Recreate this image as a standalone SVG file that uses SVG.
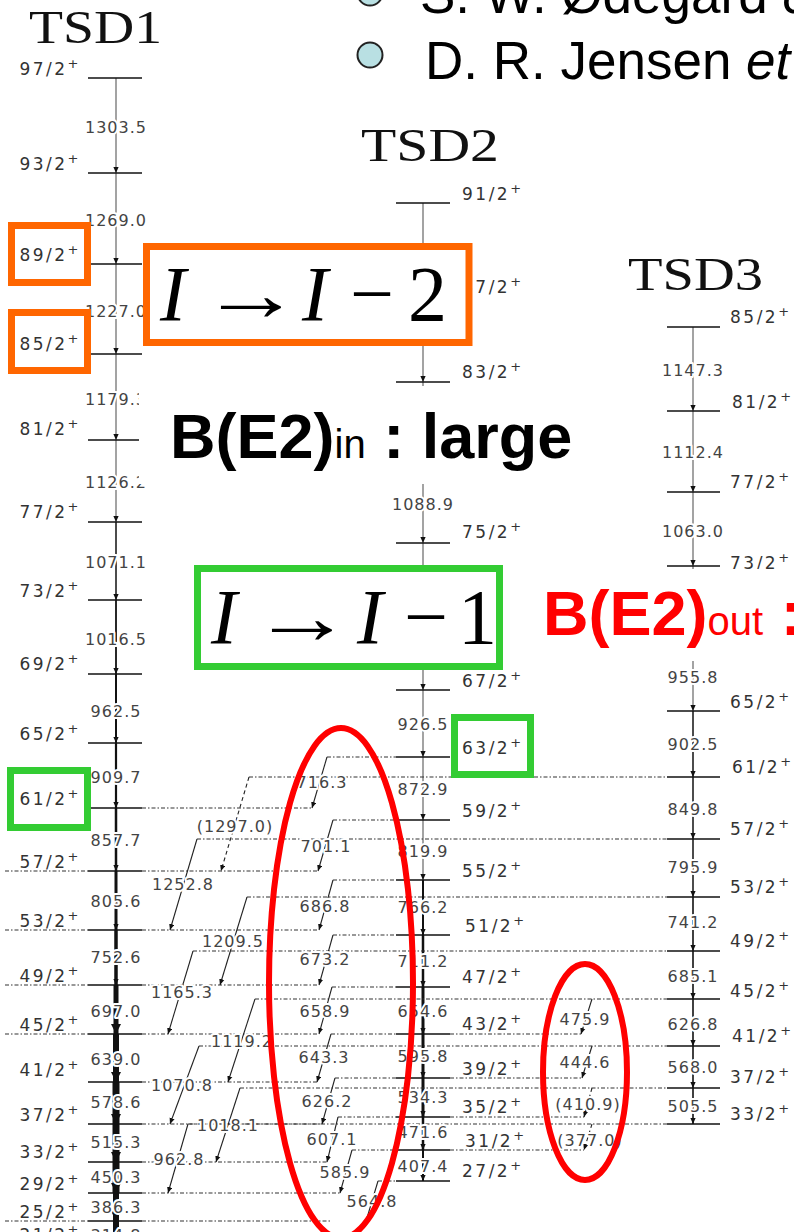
<svg xmlns="http://www.w3.org/2000/svg" width="794" height="1232" viewBox="0 0 794 1232">
<defs>
<style>
.lv{stroke:#111;stroke-width:1.6}
.dd{stroke:#333;stroke-width:1.1;stroke-dasharray:4 2 1.5 2;fill:none}
.ib{stroke:#222;stroke-width:1.1;fill:none}
.ibd{stroke:#222;stroke-width:1.1;fill:none;stroke-dasharray:4 3}
.ll{font-family:"DejaVu Sans",sans-serif;font-size:17px;fill:#333;letter-spacing:2.5px}
.ll tspan{font-size:13px}
.tl{font-family:"DejaVu Sans",sans-serif;font-size:16px;fill:#444;letter-spacing:1px;text-anchor:middle;stroke:#fff;stroke-width:4px;stroke-linejoin:round;paint-order:stroke}
.ttl{font-family:"Liberation Serif",serif;font-size:47px;fill:#111}
.box-o{fill:none;stroke:#ff6600;stroke-width:7}
.box-g{fill:none;stroke:#33cc33;stroke-width:7}
.math{font-family:"Liberation Serif","DejaVu Serif",serif;font-size:78px;fill:#000}
.arr{font-family:"Liberation Serif","DejaVu Serif",serif;font-size:78px;fill:#000;text-anchor:middle}
.big{font-family:"Liberation Sans",Arial,sans-serif;font-weight:bold;font-size:63px}
.sub{font-weight:normal;font-size:40px}
.ell{fill:none;stroke:#ff0000;stroke-width:6}
.hdr{font-family:"Liberation Sans",Arial,sans-serif;font-size:53px;fill:#000}
.g1{stroke:#666;stroke-width:1.2}
.k{stroke:#111}
</style>
<marker id="a" viewBox="0 0 8 8" refX="8" refY="4" markerWidth="6" markerHeight="6" markerUnits="userSpaceOnUse" orient="auto"><path d="M0,0.5 L8,4 L0,7.5z" fill="#111"/></marker>
<marker id="ab" viewBox="0 0 8 8" refX="8" refY="4" markerWidth="10" markerHeight="12" markerUnits="userSpaceOnUse" orient="auto"><path d="M0,0 L8,4 L0,8z" fill="#111"/></marker>
</defs>
<rect width="794" height="1232" fill="#fff"/>

<!-- header -->
<g id="header">
<circle cx="370" cy="-7" r="12.5" fill="#b9e0e3" stroke="#222" stroke-width="2"/>
<text class="hdr" x="420" y="13">S. W. Ødegård <tspan font-style="italic">et</tspan></text>
<circle cx="370" cy="55" r="12.5" fill="#b9e0e3" stroke="#222" stroke-width="2"/>
<text class="hdr" x="425" y="79">D. R. Jensen <tspan font-style="italic">et</tspan></text>
</g>

<g id="titles">
<text class="ttl" x="29" y="43" textLength="133" lengthAdjust="spacingAndGlyphs">TSD1</text>
<text class="ttl" x="361" y="161" textLength="138" lengthAdjust="spacingAndGlyphs">TSD2</text>
<text class="ttl" x="628" y="290" textLength="135" lengthAdjust="spacingAndGlyphs">TSD3</text>
</g>

<g id="connectors">
<!-- TSD1 in-band -->
<g marker-end="url(#a)">
<line class="g1" x1="116" y1="78" x2="116" y2="173"/>
<line class="g1" x1="116" y1="173" x2="116" y2="264"/>
<line class="g1" x1="116" y1="264" x2="116" y2="354"/>
<line class="g1" x1="116" y1="354" x2="116" y2="440"/>
<line class="g1" x1="116" y1="440" x2="116" y2="522"/>
<line class="k" stroke-width="1.5" x1="116" y1="522" x2="116" y2="600"/>
<line class="k" stroke-width="1.8" x1="116" y1="600" x2="116" y2="674"/>
<line class="k" stroke-width="2" x1="116" y1="674" x2="116" y2="743"/>
<line class="k" stroke-width="2.2" x1="116" y1="743" x2="116" y2="808"/>
<line class="k" stroke-width="2.5" x1="116" y1="808" x2="116" y2="871"/>
<line class="k" stroke-width="3" x1="116" y1="871" x2="116" y2="930"/>
<line class="k" stroke-width="3.5" x1="116" y1="930" x2="116" y2="985"/>
</g>
<g marker-end="url(#ab)">
<line class="k" stroke-width="5" x1="116" y1="985" x2="116" y2="1034"/>
<line class="k" stroke-width="6" x1="116" y1="1034" x2="116" y2="1082"/>
<line class="k" stroke-width="7" x1="116" y1="1082" x2="116" y2="1124"/>
<line class="k" stroke-width="7" x1="116" y1="1124" x2="116" y2="1162"/>
<line class="k" stroke-width="7" x1="116" y1="1162" x2="116" y2="1193"/>
<line class="k" stroke-width="6" x1="116" y1="1193" x2="116" y2="1221"/>
<line class="k" stroke-width="6" x1="116" y1="1221" x2="116" y2="1245"/>
</g>
<!-- TSD2 in-band -->
<g marker-end="url(#a)">
<line class="g1" x1="423" y1="203" x2="423" y2="296"/>
<line class="g1" x1="423" y1="296" x2="423" y2="382"/>
<line class="g1" x1="423" y1="382" x2="423" y2="463"/>
<line class="g1" x1="423" y1="463" x2="423" y2="543"/>
<line class="g1" x1="423" y1="543" x2="423" y2="617"/>
<line class="g1" x1="423" y1="617" x2="423" y2="690"/>
<line class="g1" stroke-width="1.5" x1="423" y1="690" x2="423" y2="757"/>
<line class="g1" stroke-width="1.5" x1="423" y1="757" x2="423" y2="820"/>
<line class="g1" stroke-width="1.6" x1="423" y1="820" x2="423" y2="880"/>
<line class="k" stroke-width="2" x1="423" y1="880" x2="423" y2="935"/>
<line class="k" stroke-width="2.5" x1="423" y1="935" x2="423" y2="987"/>
<line class="k" stroke-width="3" x1="423" y1="987" x2="423" y2="1034"/>
<line class="k" stroke-width="3" x1="423" y1="1034" x2="423" y2="1078"/>
<line class="k" stroke-width="3" x1="423" y1="1078" x2="423" y2="1117"/>
<line class="k" stroke-width="2.5" x1="423" y1="1117" x2="423" y2="1150"/>
<line class="k" stroke-width="2" x1="423" y1="1150" x2="423" y2="1181"/>
</g>
<!-- TSD3 in-band -->
<g marker-end="url(#a)">
<line class="g1" x1="693" y1="327" x2="693" y2="411"/>
<line class="g1" x1="693" y1="411" x2="693" y2="492"/>
<line class="g1" x1="693" y1="492" x2="693" y2="566"/>
<line class="g1" x1="693" y1="566" x2="693" y2="640"/>
<line class="g1" x1="693" y1="640" x2="693" y2="711"/>
<line class="k" stroke-width="1.5" x1="693" y1="711" x2="693" y2="777"/>
<line class="k" stroke-width="1.5" x1="693" y1="777" x2="693" y2="839"/>
<line class="k" stroke-width="1.5" x1="693" y1="839" x2="693" y2="897"/>
<line class="k" stroke-width="1.6" x1="693" y1="897" x2="693" y2="951"/>
<line class="k" stroke-width="1.6" x1="693" y1="951" x2="693" y2="999"/>
<line class="k" stroke-width="1.6" x1="693" y1="999" x2="693" y2="1046"/>
<line class="k" stroke-width="1.6" x1="693" y1="1046" x2="693" y2="1088"/>
<line class="k" stroke-width="1.6" x1="693" y1="1088" x2="693" y2="1124"/>
</g>

<!-- level extensions (dash-dot) -->
<g class="dd">
<line x1="249" y1="777" x2="667" y2="777"/>
<line x1="197" y1="839" x2="667" y2="839"/>
<line x1="247" y1="897" x2="667" y2="897"/>
<line x1="193" y1="951" x2="667" y2="951"/>
<line x1="255" y1="999" x2="667" y2="999"/>
<line x1="199" y1="1046" x2="667" y2="1046"/>
<line x1="240" y1="1088" x2="667" y2="1088"/>
<line x1="188" y1="1124" x2="667" y2="1124"/>
<line x1="142" y1="808" x2="312" y2="808"/>
<line x1="142" y1="871" x2="318" y2="871"/>
<line x1="142" y1="930" x2="319" y2="930"/>
<line x1="142" y1="985" x2="319" y2="985"/>
<line x1="142" y1="1034" x2="319" y2="1034"/>
<line x1="142" y1="1082" x2="317" y2="1082"/>
<line x1="142" y1="1124" x2="322" y2="1124"/>
<line x1="142" y1="1162" x2="327" y2="1162"/>
<line x1="142" y1="1193" x2="340" y2="1193"/>
<line x1="142" y1="1221" x2="330" y2="1221"/>
<line x1="5" y1="871" x2="88" y2="871"/>
<line x1="5" y1="930" x2="88" y2="930"/>
<line x1="5" y1="985" x2="88" y2="985"/>
<line x1="5" y1="1034" x2="88" y2="1034"/>
<line x1="5" y1="1221" x2="88" y2="1221"/>
<line x1="327" y1="757" x2="396" y2="757"/>
<line x1="333" y1="820" x2="396" y2="820"/>
<line x1="333" y1="880" x2="396" y2="880"/>
<line x1="333" y1="935" x2="396" y2="935"/>
<line x1="332" y1="987" x2="396" y2="987"/>
<line x1="331" y1="1034" x2="396" y2="1034"/>
<line x1="335" y1="1078" x2="396" y2="1078"/>
<line x1="338" y1="1117" x2="396" y2="1117"/>
<line x1="352" y1="1150" x2="396" y2="1150"/>
<line x1="378" y1="1181" x2="396" y2="1181"/>
<line x1="450" y1="1034" x2="581" y2="1034"/>
<line x1="450" y1="1078" x2="582" y2="1078"/>
<line x1="450" y1="1117" x2="584" y2="1117"/>
<line x1="450" y1="1150" x2="584" y2="1150"/>
</g>

<!-- interband transitions -->
<g marker-end="url(#a)">
<line class="ib" x1="327" y1="757" x2="312" y2="808"/>
<line class="ib" x1="333" y1="820" x2="318" y2="871"/>
<line class="ib" x1="333" y1="880" x2="319" y2="930"/>
<line class="ib" x1="333" y1="935" x2="319" y2="985"/>
<line class="ib" x1="332" y1="987" x2="319" y2="1034"/>
<line class="ib" x1="331" y1="1034" x2="317" y2="1082"/>
<line class="ib" x1="335" y1="1078" x2="322" y2="1124"/>
<line class="ib" x1="338" y1="1117" x2="327" y2="1162"/>
<line class="ib" x1="352" y1="1150" x2="340" y2="1193"/>
<line class="ib" x1="378" y1="1181" x2="364" y2="1228"/>
<line class="ib" x1="592" y1="999" x2="581" y2="1034"/>
<line class="ib" x1="592" y1="1046" x2="582" y2="1078"/>
<line class="ibd" x1="592" y1="1088" x2="584" y2="1117"/>
<line class="ibd" x1="592" y1="1124" x2="584" y2="1150"/>
<line class="ibd" x1="249" y1="777" x2="221" y2="871"/>
<line class="ib" x1="197" y1="839" x2="170" y2="930"/>
<line class="ib" x1="247" y1="897" x2="220" y2="985"/>
<line class="ib" x1="193" y1="951" x2="168" y2="1034"/>
<line class="ib" x1="255" y1="999" x2="228" y2="1082"/>
<line class="ib" x1="199" y1="1046" x2="170" y2="1124"/>
<line class="ib" x1="240" y1="1088" x2="216" y2="1162"/>
<line class="ib" x1="188" y1="1124" x2="168" y2="1193"/>
</g>

<!-- transition energy labels -->
<g id="tsd1-energies">
<text class="tl" x="116" y="133">1303.5</text>
<text class="tl" x="116" y="226">1269.0</text>
<text class="tl" x="116" y="317">1227.0</text>
<text class="tl" x="116" y="405">1179.3</text>
<text class="tl" x="116" y="488">1126.2</text>
<text class="tl" x="116" y="568">1071.1</text>
<text class="tl" x="116" y="645">1016.5</text>
<text class="tl" x="116" y="717">962.5</text>
<text class="tl" x="116" y="783">909.7</text>
<text class="tl" x="116" y="846">857.7</text>
<text class="tl" x="116" y="907">805.6</text>
<text class="tl" x="116" y="963">752.6</text>
<text class="tl" x="116" y="1017">697.0</text>
<text class="tl" x="116" y="1065">639.0</text>
<text class="tl" x="116" y="1108">578.6</text>
<text class="tl" x="116" y="1148">515.3</text>
<text class="tl" x="116" y="1183">450.3</text>
<text class="tl" x="116" y="1213">386.3</text>
<text class="tl" x="116" y="1241">314.8</text>
</g>
<g id="tsd2-energies">
<text class="tl" x="423" y="510">1088.9</text>
<text class="tl" x="423" y="730">926.5</text>
<text class="tl" x="423" y="795">872.9</text>
<text class="tl" x="423" y="857">819.9</text>
<text class="tl" x="423" y="913">766.2</text>
<text class="tl" x="423" y="967">711.2</text>
<text class="tl" x="423" y="1017">654.6</text>
<text class="tl" x="423" y="1062">595.8</text>
<text class="tl" x="423" y="1103">534.3</text>
<text class="tl" x="423" y="1138">471.6</text>
<text class="tl" x="423" y="1172">407.4</text>
</g>
<g id="tsd3-energies">
<text class="tl" x="693" y="376">1147.3</text>
<text class="tl" x="693" y="458">1112.4</text>
<text class="tl" x="693" y="537">1063.0</text>
<text class="tl" x="693" y="683">955.8</text>
<text class="tl" x="693" y="750">902.5</text>
<text class="tl" x="693" y="815">849.8</text>
<text class="tl" x="693" y="873">795.9</text>
<text class="tl" x="693" y="928">741.2</text>
<text class="tl" x="693" y="982">685.1</text>
<text class="tl" x="693" y="1030">626.8</text>
<text class="tl" x="693" y="1073">568.0</text>
<text class="tl" x="693" y="1112">505.5</text>
</g>
<g id="interband-energies">
<text class="tl" x="322" y="788">716.3</text>
<text class="tl" x="326" y="852">701.1</text>
<text class="tl" x="325" y="912">686.8</text>
<text class="tl" x="325" y="965">673.2</text>
<text class="tl" x="325" y="1017">658.9</text>
<text class="tl" x="324" y="1063">643.3</text>
<text class="tl" x="327" y="1107">626.2</text>
<text class="tl" x="332" y="1145">607.1</text>
<text class="tl" x="345" y="1178">585.9</text>
<text class="tl" x="372" y="1207">564.8</text>
<text class="tl" x="585" y="1025">475.9</text>
<text class="tl" x="585" y="1068">444.6</text>
<text class="tl" x="588" y="1110">(410.9)</text>
<text class="tl" x="590" y="1146">(377.0)</text>
<text class="tl" x="235" y="832">(1297.0)</text>
<text class="tl" x="183" y="890">1252.8</text>
<text class="tl" x="233" y="947">1209.5</text>
<text class="tl" x="182" y="998">1165.3</text>
<text class="tl" x="242" y="1047">1119.2</text>
<text class="tl" x="182" y="1091">1070.8</text>
<text class="tl" x="228" y="1131">1018.1</text>
<text class="tl" x="179" y="1165">962.8</text>
</g>
</g>

<!-- TSD1 levels -->
<g id="tsd1-97"><line class="lv" x1="88" y1="78" x2="142" y2="78"/><text class="ll" x="81" y="75" text-anchor="end">97/2<tspan dy="-7">+</tspan></text></g>
<g id="tsd1-93"><line class="lv" x1="88" y1="173" x2="142" y2="173"/><text class="ll" x="81" y="170" text-anchor="end">93/2<tspan dy="-7">+</tspan></text></g>
<g id="tsd1-89"><line class="lv" x1="88" y1="264" x2="142" y2="264"/><text class="ll" x="81" y="261" text-anchor="end">89/2<tspan dy="-7">+</tspan></text></g>
<g id="tsd1-85"><line class="lv" x1="88" y1="354" x2="142" y2="354"/><text class="ll" x="81" y="350" text-anchor="end">85/2<tspan dy="-7">+</tspan></text></g>
<g id="tsd1-81"><line class="lv" x1="88" y1="440" x2="142" y2="440"/><text class="ll" x="81" y="435" text-anchor="end">81/2<tspan dy="-7">+</tspan></text></g>
<g id="tsd1-77"><line class="lv" x1="88" y1="522" x2="142" y2="522"/><text class="ll" x="81" y="518" text-anchor="end">77/2<tspan dy="-7">+</tspan></text></g>
<g id="tsd1-73"><line class="lv" x1="88" y1="600" x2="142" y2="600"/><text class="ll" x="81" y="597" text-anchor="end">73/2<tspan dy="-7">+</tspan></text></g>
<g id="tsd1-69"><line class="lv" x1="88" y1="674" x2="142" y2="674"/><text class="ll" x="81" y="670" text-anchor="end">69/2<tspan dy="-7">+</tspan></text></g>
<g id="tsd1-65"><line class="lv" x1="88" y1="743" x2="142" y2="743"/><text class="ll" x="81" y="740" text-anchor="end">65/2<tspan dy="-7">+</tspan></text></g>
<g id="tsd1-61"><line class="lv" x1="88" y1="808" x2="142" y2="808"/><text class="ll" x="81" y="805" text-anchor="end">61/2<tspan dy="-7">+</tspan></text></g>
<g id="tsd1-57"><line class="lv" x1="88" y1="871" x2="142" y2="871"/><text class="ll" x="81" y="868" text-anchor="end">57/2<tspan dy="-7">+</tspan></text></g>
<g id="tsd1-53"><line class="lv" x1="88" y1="930" x2="142" y2="930"/><text class="ll" x="81" y="927" text-anchor="end">53/2<tspan dy="-7">+</tspan></text></g>
<g id="tsd1-49"><line class="lv" x1="88" y1="985" x2="142" y2="985"/><text class="ll" x="81" y="982" text-anchor="end">49/2<tspan dy="-7">+</tspan></text></g>
<g id="tsd1-45"><line class="lv" x1="88" y1="1034" x2="142" y2="1034"/><text class="ll" x="81" y="1031" text-anchor="end">45/2<tspan dy="-7">+</tspan></text></g>
<g id="tsd1-41"><line class="lv" x1="88" y1="1082" x2="142" y2="1082"/><text class="ll" x="81" y="1076" text-anchor="end">41/2<tspan dy="-7">+</tspan></text></g>
<g id="tsd1-37"><line class="lv" x1="88" y1="1124" x2="142" y2="1124"/><text class="ll" x="81" y="1121" text-anchor="end">37/2<tspan dy="-7">+</tspan></text></g>
<g id="tsd1-33"><line class="lv" x1="88" y1="1162" x2="142" y2="1162"/><text class="ll" x="81" y="1158" text-anchor="end">33/2<tspan dy="-7">+</tspan></text></g>
<g id="tsd1-29"><line class="lv" x1="88" y1="1193" x2="142" y2="1193"/><text class="ll" x="81" y="1190" text-anchor="end">29/2<tspan dy="-7">+</tspan></text></g>
<g id="tsd1-25"><line class="lv" x1="88" y1="1221" x2="142" y2="1221"/><text class="ll" x="81" y="1218" text-anchor="end">25/2<tspan dy="-7">+</tspan></text></g>
<g id="tsd1-21"><line class="lv" x1="88" y1="1245" x2="142" y2="1245"/><text class="ll" x="81" y="1241" text-anchor="end">21/2<tspan dy="-7">+</tspan></text></g>

<!-- TSD2 levels -->
<g id="tsd2-91"><line class="lv" x1="396" y1="203" x2="450" y2="203"/><text class="ll" x="462" y="200">91/2<tspan dy="-7">+</tspan></text></g>
<g id="tsd2-87"><line class="lv" x1="396" y1="296" x2="450" y2="296"/><text class="ll" x="462" y="293">87/2<tspan dy="-7">+</tspan></text></g>
<g id="tsd2-83"><line class="lv" x1="396" y1="382" x2="450" y2="382"/><text class="ll" x="462" y="378">83/2<tspan dy="-7">+</tspan></text></g>
<g id="tsd2-75"><line class="lv" x1="396" y1="543" x2="450" y2="543"/><text class="ll" x="462" y="538">75/2<tspan dy="-7">+</tspan></text></g>
<g id="tsd2-67"><line class="lv" x1="396" y1="690" x2="450" y2="690"/><text class="ll" x="462" y="687">67/2<tspan dy="-7">+</tspan></text></g>
<g id="tsd2-63"><line class="lv" x1="396" y1="757" x2="450" y2="757"/><text class="ll" x="462" y="754">63/2<tspan dy="-7">+</tspan></text></g>
<g id="tsd2-59"><line class="lv" x1="396" y1="820" x2="450" y2="820"/><text class="ll" x="462" y="817">59/2<tspan dy="-7">+</tspan></text></g>
<g id="tsd2-55"><line class="lv" x1="396" y1="880" x2="450" y2="880"/><text class="ll" x="462" y="877">55/2<tspan dy="-7">+</tspan></text></g>
<g id="tsd2-51"><line class="lv" x1="396" y1="935" x2="450" y2="935"/><text class="ll" x="465" y="932">51/2<tspan dy="-7">+</tspan></text></g>
<g id="tsd2-47"><line class="lv" x1="396" y1="987" x2="450" y2="987"/><text class="ll" x="462" y="983">47/2<tspan dy="-7">+</tspan></text></g>
<g id="tsd2-43"><line class="lv" x1="396" y1="1034" x2="450" y2="1034"/><text class="ll" x="462" y="1030">43/2<tspan dy="-7">+</tspan></text></g>
<g id="tsd2-39"><line class="lv" x1="396" y1="1078" x2="450" y2="1078"/><text class="ll" x="462" y="1075">39/2<tspan dy="-7">+</tspan></text></g>
<g id="tsd2-35"><line class="lv" x1="396" y1="1117" x2="450" y2="1117"/><text class="ll" x="462" y="1113">35/2<tspan dy="-7">+</tspan></text></g>
<g id="tsd2-31"><line class="lv" x1="396" y1="1150" x2="450" y2="1150"/><text class="ll" x="465" y="1147">31/2<tspan dy="-7">+</tspan></text></g>
<g id="tsd2-27"><line class="lv" x1="396" y1="1181" x2="450" y2="1181"/><text class="ll" x="462" y="1177">27/2<tspan dy="-7">+</tspan></text></g>

<!-- TSD3 levels -->
<g id="tsd3-85"><line class="lv" x1="667" y1="327" x2="720" y2="327"/><text class="ll" x="730" y="323">85/2<tspan dy="-7">+</tspan></text></g>
<g id="tsd3-81"><line class="lv" x1="667" y1="411" x2="720" y2="411"/><text class="ll" x="732" y="408">81/2<tspan dy="-7">+</tspan></text></g>
<g id="tsd3-77"><line class="lv" x1="667" y1="492" x2="720" y2="492"/><text class="ll" x="730" y="488">77/2<tspan dy="-7">+</tspan></text></g>
<g id="tsd3-73"><line class="lv" x1="667" y1="566" x2="720" y2="566"/><text class="ll" x="730" y="569">73/2<tspan dy="-7">+</tspan></text></g>
<g id="tsd3-65"><line class="lv" x1="667" y1="711" x2="720" y2="711"/><text class="ll" x="730" y="708">65/2<tspan dy="-7">+</tspan></text></g>
<g id="tsd3-61"><line class="lv" x1="667" y1="777" x2="720" y2="777"/><text class="ll" x="732" y="773">61/2<tspan dy="-7">+</tspan></text></g>
<g id="tsd3-57"><line class="lv" x1="667" y1="839" x2="720" y2="839"/><text class="ll" x="730" y="835">57/2<tspan dy="-7">+</tspan></text></g>
<g id="tsd3-53"><line class="lv" x1="667" y1="897" x2="720" y2="897"/><text class="ll" x="730" y="893">53/2<tspan dy="-7">+</tspan></text></g>
<g id="tsd3-49"><line class="lv" x1="667" y1="951" x2="720" y2="951"/><text class="ll" x="730" y="947">49/2<tspan dy="-7">+</tspan></text></g>
<g id="tsd3-45"><line class="lv" x1="667" y1="999" x2="720" y2="999"/><text class="ll" x="730" y="997">45/2<tspan dy="-7">+</tspan></text></g>
<g id="tsd3-41"><line class="lv" x1="667" y1="1046" x2="720" y2="1046"/><text class="ll" x="732" y="1042">41/2<tspan dy="-7">+</tspan></text></g>
<g id="tsd3-37"><line class="lv" x1="667" y1="1088" x2="720" y2="1088"/><text class="ll" x="730" y="1083">37/2<tspan dy="-7">+</tspan></text></g>
<g id="tsd3-33"><line class="lv" x1="667" y1="1124" x2="720" y2="1124"/><text class="ll" x="730" y="1120">33/2<tspan dy="-7">+</tspan></text></g>

<!-- annotations -->
<g id="note-in">
<rect x="139" y="386" width="452" height="98" fill="#fff"/>
<text class="big" x="170" y="458" fill="#000">B(E2)<tspan class="sub">in</tspan> : large</text>
</g>
<g id="note-out">
<rect x="536" y="569" width="258" height="92" fill="#fff"/>
<text class="big" x="543" y="635" fill="#ff0000">B(E2)<tspan class="sub">out</tspan> :</text>
</g>
<g id="box-i-2">
<rect x="146.5" y="246.5" width="322.5" height="96" fill="#fff" stroke="#ff6600" stroke-width="7"/>
<text class="math" y="320"><tspan x="160" font-style="italic">I</tspan><tspan x="302" font-style="italic">I</tspan><tspan x="350">−</tspan><tspan x="408">2</tspan></text>
<text class="arr" transform="translate(251,320) scale(1.3,1)">→</text>
</g>
<g id="box-i-1">
<rect x="197.5" y="568.5" width="302" height="98" fill="#fff" stroke="#33cc33" stroke-width="7"/>
<text class="math" y="643"><tspan x="211" font-style="italic">I</tspan><tspan x="357" font-style="italic">I</tspan><tspan x="404">−</tspan><tspan x="458">1</tspan></text>
<text class="arr" transform="translate(302,643) scale(1.3,1)">→</text>
</g>
<rect id="hl-89" class="box-o" x="11.5" y="225.5" width="76" height="57"/>
<rect id="hl-85" class="box-o" x="11.5" y="312.5" width="76" height="58"/>
<rect id="hl-61" class="box-g" x="10.5" y="770.5" width="77" height="57"/>
<rect id="hl-63" class="box-g" x="454.5" y="717.5" width="76" height="57"/>
<ellipse id="ell-big" class="ell" cx="341" cy="983" rx="72" ry="255"/>
<ellipse id="ell-small" class="ell" cx="585" cy="1072" rx="42" ry="108" stroke-width="5"/>
</svg>
